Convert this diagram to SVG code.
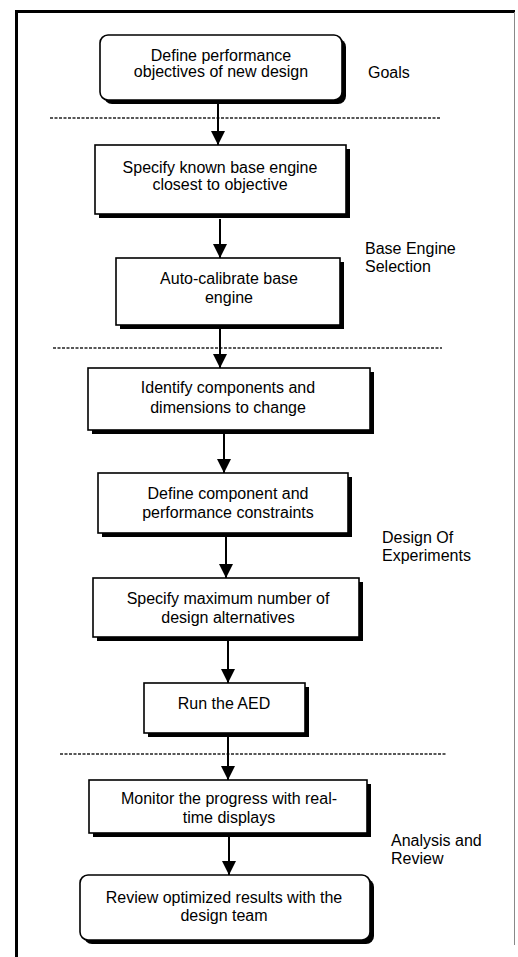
<svg xmlns="http://www.w3.org/2000/svg" width="518" height="957" viewBox="0 0 518 957">
<style>
.box{fill:#fff;stroke:#000;stroke-width:1.6}
.sh{fill:#000}
.t{font-family:"Liberation Sans",Arial,sans-serif;font-size:16px;fill:#000;text-anchor:middle}
.l{font-family:"Liberation Sans",Arial,sans-serif;font-size:16px;fill:#000}
.dash{stroke:#222;stroke-width:1.4;stroke-dasharray:3 1.5;fill:none}
.c{stroke:#000;stroke-width:2;fill:none}
</style>
<defs>
<marker id="ah" markerUnits="userSpaceOnUse" markerWidth="16" markerHeight="16" viewBox="0 0 16 16" refX="14" refY="8" orient="auto">
<path d="M0,1 L14,8 L0,15 Z" fill="#000"/>
</marker>
</defs>
<g id="frame">
<path d="M16.5,957 L16.5,11.5 L515,11.5" fill="none" stroke="#000" stroke-width="3"/>
<line x1="514.5" y1="12" x2="514.5" y2="945" stroke="#888" stroke-width="1"/>
</g>
<g id="separators">
<line class="dash" x1="50" y1="118" x2="440" y2="118"/>
<line class="dash" x1="53" y1="348" x2="442" y2="348"/>
<line class="dash" x1="60" y1="754" x2="447" y2="754"/>
</g>
<g id="connectors">
<line class="c" x1="218" y1="104" x2="218" y2="145" marker-end="url(#ah)"/>
<line class="c" x1="220" y1="219" x2="220" y2="258" marker-end="url(#ah)"/>
<line class="c" x1="220" y1="329" x2="220" y2="368" marker-end="url(#ah)"/>
<line class="c" x1="224" y1="434" x2="224" y2="473" marker-end="url(#ah)"/>
<line class="c" x1="226" y1="537" x2="226" y2="578" marker-end="url(#ah)"/>
<line class="c" x1="228" y1="641" x2="228" y2="683" marker-end="url(#ah)"/>
<line class="c" x1="228" y1="737" x2="228" y2="780" marker-end="url(#ah)"/>
<line class="c" x1="229" y1="837" x2="229" y2="875" marker-end="url(#ah)"/>
</g>
<g id="n1">
<rect class="sh" x="104" y="39" width="242" height="65" rx="8"/>
<rect class="box" x="100" y="35" width="242" height="65" rx="8"/>
<text class="t" x="221" y="61">Define performance</text>
<text class="t" x="221" y="77">objectives of new design</text>
</g>
<g id="n2">
<rect class="sh" x="99" y="149" width="251" height="69"/>
<rect class="box" x="95" y="145" width="251" height="69"/>
<text class="t" x="220" y="173">Specify known base engine</text>
<text class="t" x="220" y="190">closest to objective</text>
</g>
<g id="n3">
<rect class="sh" x="120" y="262" width="224" height="67"/>
<rect class="box" x="116" y="258" width="224" height="67"/>
<text class="t" x="229" y="284">Auto-calibrate base</text>
<text class="t" x="229" y="303">engine</text>
</g>
<g id="n4">
<rect class="sh" x="92" y="372" width="282" height="62"/>
<rect class="box" x="88" y="368" width="282" height="62"/>
<text class="t" x="228" y="393">Identify components and</text>
<text class="t" x="228" y="413">dimensions to change</text>
</g>
<g id="n5">
<rect class="sh" x="102" y="477" width="250" height="60"/>
<rect class="box" x="98" y="473" width="250" height="60"/>
<text class="t" x="228" y="499">Define component and</text>
<text class="t" x="228" y="518">performance constraints</text>
</g>
<g id="n6">
<rect class="sh" x="97" y="582" width="266" height="59"/>
<rect class="box" x="93" y="578" width="266" height="59"/>
<text class="t" x="228" y="604">Specify maximum number of</text>
<text class="t" x="228" y="623">design alternatives</text>
</g>
<g id="n7">
<rect class="sh" x="148" y="687" width="161" height="50"/>
<rect class="box" x="144" y="683" width="161" height="50"/>
<text class="t" x="224" y="709">Run the AED</text>
</g>
<g id="n8">
<rect class="sh" x="93" y="784" width="278" height="53"/>
<rect class="box" x="89" y="780" width="278" height="53"/>
<text class="t" x="229" y="804">Monitor the progress with real-</text>
<text class="t" x="229" y="823">time displays</text>
</g>
<g id="n9">
<rect class="sh" x="84" y="879" width="290" height="65" rx="8"/>
<rect class="box" x="80" y="875" width="290" height="65" rx="8"/>
<text class="t" x="224" y="903">Review optimized results with the</text>
<text class="t" x="224" y="921">design team</text>
</g>
<g id="labels">
<text class="l" x="368" y="78">Goals</text>
<text class="l" x="365" y="254">Base Engine</text>
<text class="l" x="365" y="272">Selection</text>
<text class="l" x="382" y="543">Design Of</text>
<text class="l" x="382" y="561">Experiments</text>
<text class="l" x="391" y="846">Analysis and</text>
<text class="l" x="391" y="864">Review</text>
</g>
</svg>
